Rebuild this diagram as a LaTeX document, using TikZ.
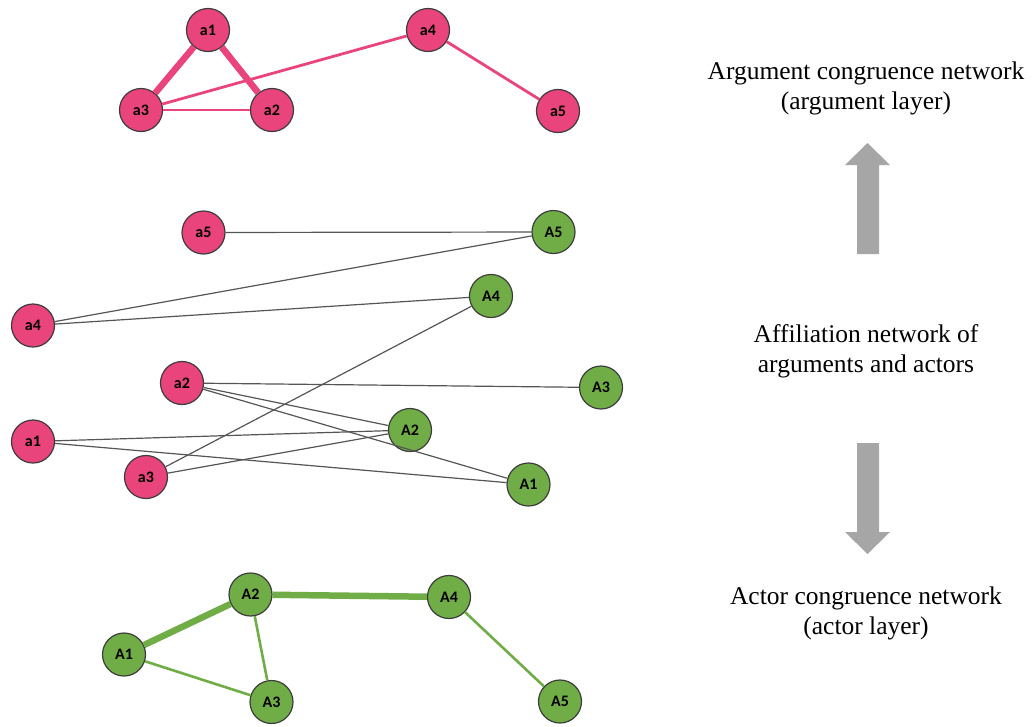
\documentclass[tikz,border=0pt]{standalone}
\usepackage{fontspec}
\setmainfont{Liberation Serif}
\newfontfamily\labelfont{Carlito}
\definecolor{argpink}{RGB}{234,68,124}
\definecolor{actgreen}{RGB}{112,173,71}
\definecolor{rim}{RGB}{60,60,60}
\definecolor{tie}{RGB}{85,85,85}
\definecolor{arrowgray}{RGB}{166,166,166}
\begin{document}
\begin{tikzpicture}[x=1pt,y=-1pt,
  vertex/.style={circle,draw=rim,line width=1.2pt,minimum size=43pt,inner sep=0pt,
    font=\labelfont\bfseries\fontsize{16}{16}\selectfont},
  arg/.style={vertex,fill=argpink},
  act/.style={vertex,fill=actgreen},
  pstrong/.style={draw=argpink,line width=6.5pt},
  pweak/.style={draw=argpink,line width=2.8pt},
  gstrong/.style={draw=actgreen,line width=6.5pt},
  gweak/.style={draw=actgreen,line width=2.6pt},
  affil/.style={draw=tie,line width=1.2pt},
  caption/.style={align=center,font=\fontsize{25.5}{30}\selectfont},
  bigarrow/.style={fill=arrowgray,draw=none}]
\useasboundingbox (0,0) rectangle (1034,726);

% argument layer
\node[arg] (ta1) at (208,30) {a1};
\node[arg] (ta4) at (428,30) {a4};
\node[arg] (ta3) at (141,110) {a3};
\node[arg] (ta2) at (272,110) {a2};
\node[arg] (ta5) at (558,111) {a5};

% affiliation network
\node[arg] (ma5) at (203.5,232.5) {a5};
\node[arg] (ma4) at (33,325.5) {a4};
\node[arg] (ma2) at (182,383) {a2};
\node[arg] (ma1) at (33,441.5) {a1};
\node[arg] (ma3) at (146,477) {a3};
\node[act] (mA5) at (553.5,232) {A5};
\node[act] (mA4) at (491,296) {A4};
\node[act] (mA3) at (601,387.5) {A3};
\node[act] (mA2) at (410,430) {A2};
\node[act] (mA1) at (528.5,484.5) {A1};

% actor layer
\node[act] (bA2) at (250.5,594.5) {A2};
\node[act] (bA4) at (449,597) {A4};
\node[act] (bA1) at (124,654.5) {A1};
\node[act] (bA3) at (271.5,702) {A3};
\node[act] (bA5) at (560,701.5) {A5};

% edges
\draw[pstrong] (ta1) -- (ta3);
\draw[pstrong] (ta1) -- (ta2);
\draw[pweak] (ta3) -- (ta2);
\draw[pweak] (ta3) -- (ta4);
\draw[pweak] (ta4) -- (ta5);

\draw[affil] (ma5) -- (mA5);
\draw[affil] (ma4) -- (mA5);
\draw[affil] (ma4) -- (mA4);
\draw[affil] (ma2) -- (mA3);
\draw[affil] (ma2) -- (mA2);
\draw[affil] (ma2) -- (mA1);
\draw[affil] (ma1) -- (mA2);
\draw[affil] (ma1) -- (mA1);
\draw[affil] (ma3) -- (mA4);
\draw[affil] (ma3) -- (mA2);

\draw[gstrong] (bA1) -- (bA2);
\draw[gstrong] (bA2) -- (bA4);
\draw[gweak] (bA2) -- (bA3);
\draw[gweak] (bA1) -- (bA3);
\draw[gweak] (bA4) -- (bA5);

% captions
\node[caption] (capArg) at (866,88) {Argument congruence network\\(argument layer)};
\node[caption] (capAff) at (866,351) {Affiliation network of\\arguments and actors};
\node[caption] (capAct) at (866,613) {Actor congruence network\\(actor layer)};

% block arrows
\fill[bigarrow] (857,254) -- (857,165) -- (845,165) -- (867.5,143) -- (890,165)
  -- (879,165) -- (879,254) -- cycle;
\fill[bigarrow] (857,443) -- (857,532) -- (845,532) -- (867.5,554) -- (890,532)
  -- (879,532) -- (879,443) -- cycle;
\end{tikzpicture}
\end{document}
